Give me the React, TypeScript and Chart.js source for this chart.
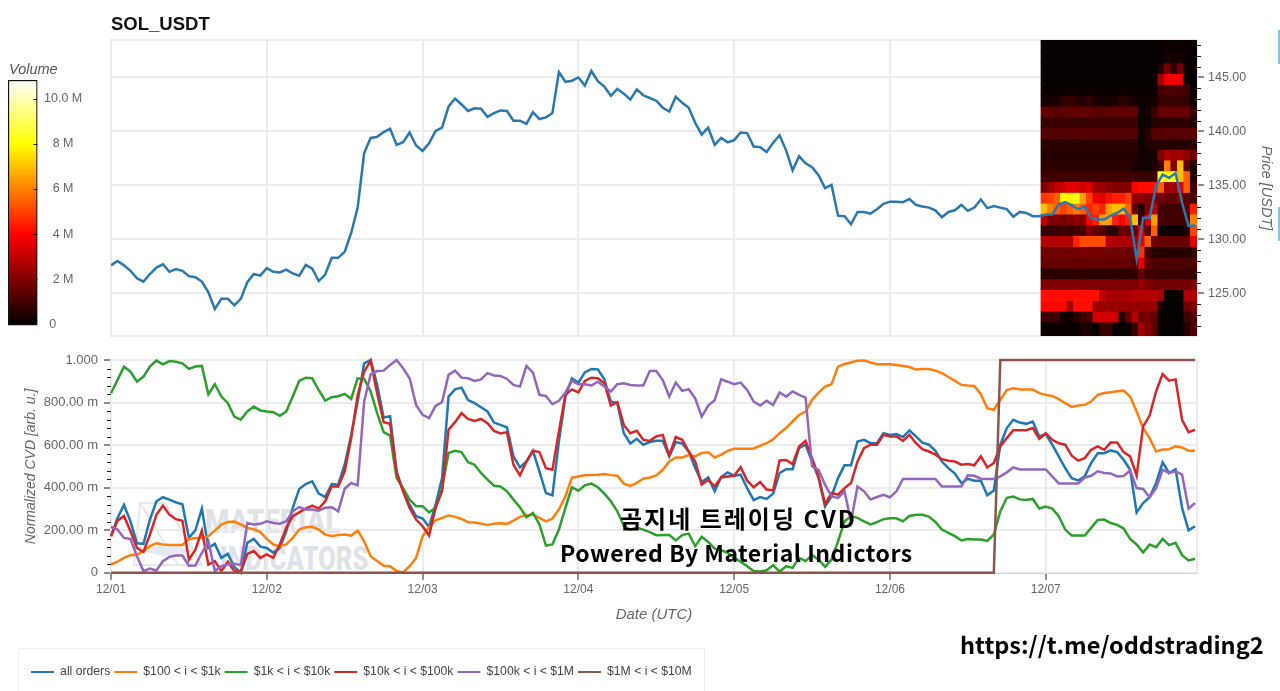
import React, { useEffect, useRef } from "react";
import { Chart, registerables } from "chart.js";

Chart.register(...registerables);

const dayLabels = ["12/01", "12/02", "12/03", "12/04", "12/05", "12/06", "12/07"];
const volumeTicks = [0, 2, 4, 6, 8, 10];
const priceTitle = "SOL_USDT";
const cvdLabels = [
  "all orders",
  "$100 < i < $1k",
  "$1k < i < $10k",
  "$10k < i < $100k",
  "$100k < i < $1M",
  "$1M < i < $10M",
];
const cvdColors = ["#1f77b4", "#ff7f0e", "#2ca02c", "#d62728", "#9467bd", "#8c564b"];

// hourly close, USDT
const price = [
  127.6, 128.0, 127.6, 127.1, 126.4, 126.1, 126.8, 127.4, 127.7, 127.0, 127.25, 127.1, 126.6, 126.5, 126.1, 125.1, 123.55, 124.5, 124.5, 123.9, 124.5, 126.05, 126.8, 126.65,
  127.35, 127.0, 126.95, 127.2, 126.85, 126.65, 127.65, 127.3, 126.15, 126.75, 128.3, 128.3, 128.85, 130.6, 132.95, 138.0, 139.4, 139.5, 139.95, 140.25, 138.75, 139.0, 139.9, 138.7,
  138.2, 138.9, 140.05, 140.35, 142.3, 143.05, 142.5, 141.9, 142.15, 142.1, 141.35, 141.7, 141.95, 141.9, 141.0, 141.0, 140.7, 141.8, 141.15, 141.3, 141.7, 145.5, 144.6, 144.7,
  145.0, 144.25, 145.6, 144.65, 144.15, 143.3, 143.95, 143.5, 142.95, 143.9, 143.35, 143.1, 142.85, 142.2, 141.85, 143.2, 142.65, 142.2, 140.8, 139.7, 140.35, 138.75, 139.4, 139.0,
  139.2, 139.9, 139.85, 138.6, 138.55, 138.1, 138.95, 139.65, 138.25, 136.4, 137.7, 137.05, 136.7, 135.95, 134.75, 135.05, 132.2, 132.15, 131.4, 132.55, 132.55, 132.4, 132.8, 133.3,
  133.5, 133.5, 133.45, 133.75, 133.2, 133.05, 132.95, 132.7, 132.05, 132.55, 132.7, 133.2, 132.65, 132.95, 133.7, 132.9, 133.1, 132.95, 132.8, 132.1, 132.55, 132.45, 132.15, 132.15,
  132.3, 132.3, 133.25, 133.45, 133.15, 132.8, 133.05, 132.0, 131.85, 131.85, 132.2, 132.45, 132.85, 132.0, 128.2, 132.0, 132.0, 134.95, 136.0, 135.7, 136.15, 133.4, 131.25, 131.3,
];

// normalized CVD, in milli units
const allOrders = [
  172, 258, 319, 242, 139, 136, 250, 336, 355, 344, 331, 322, 164, 200, 302, 117, 136, 70, 89, 27, 0, 141, 159, 123,
  117, 94, 117, 195, 305, 394, 417, 430, 372, 356, 417, 414, 508, 648, 805, 984, 1000, 883, 730, 736, 477, 383, 320, 266,
  255, 216, 320, 445, 828, 862, 870, 812, 797, 778, 758, 706, 695, 683, 547, 495, 523, 573, 477, 375, 364, 617, 828, 914,
  894, 942, 958, 956, 909, 805, 797, 656, 608, 630, 602, 614, 620, 620, 547, 614, 608, 570, 492, 427, 448, 383, 450, 472,
  456, 461, 398, 342, 356, 347, 372, 469, 487, 487, 586, 602, 523, 445, 311, 359, 445, 505, 505, 617, 625, 609, 609, 656,
  648, 652, 638, 669, 641, 612, 602, 573, 523, 492, 466, 422, 442, 433, 433, 364, 387, 602, 680, 719, 706, 700, 711, 641,
  652, 602, 547, 492, 445, 434, 453, 516, 562, 562, 575, 567, 531, 484, 284, 328, 355, 422, 519, 469, 487, 305, 200, 219,
];
const orders100to1k = [
  39, 52, 70, 83, 86, 102, 125, 139, 133, 131, 131, 131, 158, 163, 163, 172, 198, 227, 239, 241, 227, 211, 205, 191,
  159, 133, 125, 133, 164, 203, 214, 216, 203, 180, 173, 178, 180, 175, 198, 148, 78, 55, 33, 31, 8, 2, 31, 70,
  172, 214, 247, 258, 269, 264, 253, 238, 236, 231, 225, 231, 233, 230, 245, 263, 270, 273, 258, 242, 255, 297, 359, 447,
  453, 458, 459, 461, 464, 459, 456, 419, 408, 423, 442, 448, 458, 484, 523, 542, 542, 553, 547, 563, 566, 542, 555, 573,
  583, 583, 583, 584, 597, 609, 627, 656, 680, 711, 742, 758, 813, 847, 875, 886, 969, 981, 988, 997, 998, 988, 980, 980,
  980, 977, 972, 967, 955, 958, 958, 950, 938, 920, 902, 883, 880, 878, 839, 773, 766, 813, 859, 867, 861, 861, 861, 844,
  836, 831, 816, 797, 780, 786, 789, 805, 836, 845, 848, 853, 856, 828, 758, 680, 633, 570, 580, 581, 594, 589, 573, 573,
];
const orders1kto10k = [
  844, 906, 969, 945, 898, 922, 969, 997, 980, 995, 992, 984, 958, 969, 972, 839, 886, 828, 797, 734, 719, 758, 781, 763,
  758, 755, 738, 758, 828, 902, 917, 914, 859, 809, 825, 830, 841, 817, 914, 911, 852, 750, 661, 645, 445, 398, 344, 313,
  313, 284, 305, 398, 563, 573, 567, 520, 508, 469, 438, 409, 406, 383, 344, 308, 261, 281, 227, 128, 133, 203, 305, 402,
  386, 411, 419, 402, 372, 336, 289, 219, 203, 211, 203, 191, 177, 178, 178, 152, 177, 184, 125, 169, 145, 114, 106, 94,
  70, 52, 31, 8, 6, 12, 36, 5, 31, 23, 70, 55, 83, 62, 28, 62, 148, 242, 266, 258, 242, 227, 238, 252,
  256, 256, 242, 267, 273, 273, 264, 239, 203, 188, 172, 152, 159, 156, 156, 150, 180, 289, 352, 358, 345, 342, 347, 302,
  311, 302, 266, 203, 175, 175, 175, 211, 248, 250, 234, 225, 208, 159, 133, 95, 133, 120, 159, 130, 141, 83, 58, 66,
];
const orders10kto100k = [
  172, 245, 267, 195, 117, 98, 180, 273, 316, 273, 252, 245, 62, 109, 198, 39, 55, 8, 52, 8, 5, 89, 102, 70,
  86, 70, 133, 211, 266, 284, 302, 316, 302, 336, 406, 406, 477, 633, 836, 945, 997, 844, 708, 700, 469, 383, 305, 250,
  219, 175, 305, 383, 672, 708, 750, 723, 714, 723, 703, 667, 655, 661, 508, 458, 523, 573, 567, 492, 484, 664, 836, 862,
  848, 902, 917, 914, 891, 786, 802, 695, 656, 667, 625, 620, 641, 648, 552, 638, 625, 570, 523, 414, 437, 406, 448, 453,
  456, 497, 433, 402, 427, 391, 387, 528, 530, 511, 594, 620, 539, 453, 323, 375, 367, 398, 422, 523, 586, 602, 602, 648,
  641, 641, 620, 648, 609, 581, 570, 555, 534, 527, 523, 508, 511, 505, 547, 495, 516, 594, 633, 670, 670, 670, 680, 630,
  656, 625, 609, 602, 550, 527, 539, 578, 594, 578, 612, 612, 567, 547, 456, 688, 739, 852, 934, 903, 909, 719, 661, 672,
];
const orders100kto1m = [
  216, 203, 164, 159, 78, 8, 20, 11, 55, 75, 81, 81, 33, 34, 94, 148, 8, 31, 39, 42, 36, 234, 227, 230,
  242, 234, 231, 242, 289, 309, 297, 297, 292, 306, 308, 289, 395, 422, 411, 805, 933, 948, 950, 977, 1000, 961, 914, 789,
  742, 727, 784, 802, 930, 950, 917, 914, 902, 909, 938, 927, 925, 911, 883, 875, 972, 941, 836, 831, 792, 808, 847, 902,
  886, 886, 880, 898, 875, 852, 886, 891, 883, 880, 880, 948, 948, 906, 828, 894, 855, 863, 820, 734, 786, 811, 909, 898,
  886, 894, 859, 805, 786, 808, 789, 847, 828, 852, 836, 823, 500, 484, 414, 359, 352, 383, 242, 406, 383, 344, 356, 366,
  355, 383, 441, 441, 441, 441, 441, 441, 406, 406, 406, 406, 458, 456, 442, 441, 441, 453, 472, 495, 486, 486, 486, 486,
  486, 453, 420, 420, 420, 420, 448, 456, 477, 469, 467, 453, 455, 481, 398, 394, 355, 398, 484, 469, 477, 461, 302, 328,
];
const orders1mto10m = [
  0, 0, 0, 0, 0, 0, 0, 0, 0, 0, 0, 0, 0, 0, 0, 0, 0, 0, 0, 0, 0, 0, 0, 0,
  0, 0, 0, 0, 0, 0, 0, 0, 0, 0, 0, 0, 0, 0, 0, 0, 0, 0, 0, 0, 0, 0, 0, 0,
  0, 0, 0, 0, 0, 0, 0, 0, 0, 0, 0, 0, 0, 0, 0, 0, 0, 0, 0, 0, 0, 0, 0, 0,
  0, 0, 0, 0, 0, 0, 0, 0, 0, 0, 0, 0, 0, 0, 0, 0, 0, 0, 0, 0, 0, 0, 0, 0,
  0, 0, 0, 0, 0, 0, 0, 0, 0, 0, 0, 0, 0, 0, 0, 0, 0, 0, 0, 0, 0, 0, 0, 0,
  0, 0, 0, 0, 0, 0, 0, 0, 0, 0, 0, 0, 0, 0, 0, 0, 0, 1000, 1000, 1000, 1000, 1000, 1000, 1000,
  1000, 1000, 1000, 1000, 1000, 1000, 1000, 1000, 1000, 1000, 1000, 1000, 1000, 1000, 1000, 1000, 1000, 1000, 1000, 1000, 1000, 1000, 1000, 1000,
];
const cvdSeries = [allOrders, orders100to1k, orders1kto10k, orders10kto100k, orders100kto1m, orders1mto10m];

// volume profile of the last 24 hours: lower price edge of each $1 bin, top bin first
const heatBins = [
  148.35, 147.35, 146.35, 145.35, 144.35, 143.35, 142.35, 141.35, 140.35, 139.35, 138.35, 137.35, 136.35, 135.35, 134.35,
  133.35, 132.35, 131.35, 130.35, 129.35, 128.35, 127.35, 126.35, 125.35, 124.35, 123.35, 122.35, 121.35, 120.35,
];
const heatHours = [
  143.8, 144.8, 145.8, 146.8, 147.8, 148.8, 149.8, 150.8, 151.8, 152.8, 153.8, 154.8, 155.8, 156.8, 157.8, 158.8, 159.8, 160.8, 161.8, 162.8, 163.8, 164.8, 165.8, 166.8,
];
// volume in millions, one row per bin
const heatVolume = [
  [0.1, 0.1, 0.1, 0.1, 0.1, 0.1, 0.1, 0.1, 0.1, 0.1, 0.1, 0.1, 0.1, 0.1, 0.1, 0.1, 0.1, 0.1, 0.1, 0.1, 0.1, 0.1, 0.1, 0.1],
  [0.1, 0.1, 0.1, 0.1, 0.1, 0.1, 0.1, 0.1, 0.1, 0.1, 0.1, 0.1, 0.1, 0.1, 0.1, 0.1, 0.1, 0.1, 0.15, 0.2, 0.2, 0.2, 0.15, 0.1],
  [0.1, 0.1, 0.1, 0.1, 0.1, 0.1, 0.1, 0.1, 0.1, 0.1, 0.1, 0.1, 0.1, 0.1, 0.1, 0.1, 0.1, 0.1, 0.15, 0.4, 0.3, 0.4, 0.1, 0.1],
  [0.1, 0.1, 0.1, 0.1, 0.1, 0.1, 0.1, 0.1, 0.1, 0.1, 0.1, 0.1, 0.1, 0.1, 0.1, 0.1, 0.1, 0.1, 0.5, 1.8, 0.8, 1.8, 0.2, 0.1],
  [0.1, 0.1, 0.1, 0.1, 0.1, 0.1, 0.1, 0.1, 0.1, 0.1, 0.1, 0.1, 0.1, 0.1, 0.1, 0.1, 0.1, 0.1, 2.5, 3.8, 3.8, 3.7, 0.2, 0.1],
  [0.15, 0.15, 0.15, 0.15, 0.15, 0.15, 0.15, 0.15, 0.15, 0.15, 0.15, 0.15, 0.15, 0.15, 0.15, 0.15, 0.15, 0.2, 1.0, 1.2, 1.2, 1.1, 1.0, 0.15],
  [0.35, 0.35, 0.4, 0.8, 0.8, 0.7, 0.4, 0.8, 0.4, 0.35, 0.35, 0.4, 0.7, 0.6, 0.3, 0.2, 0.2, 0.3, 0.9, 0.9, 0.9, 0.9, 0.8, 0.25],
  [1.5, 1.5, 1.4, 1.5, 1.5, 1.5, 1.6, 1.6, 1.4, 1.3, 1.5, 1.5, 1.5, 1.5, 1.5, 0.25, 0.3, 0.9, 1.6, 1.6, 1.6, 1.6, 1.6, 0.8],
  [0.9, 0.9, 0.9, 0.9, 0.9, 0.9, 0.9, 0.9, 0.9, 0.9, 0.9, 0.9, 0.9, 0.9, 0.9, 0.2, 0.2, 0.6, 0.7, 0.7, 0.7, 0.7, 0.7, 0.5],
  [1.3, 1.3, 1.3, 1.3, 1.3, 1.3, 1.4, 1.4, 1.3, 1.3, 1.3, 1.3, 1.3, 1.3, 1.3, 0.3, 0.6, 1.4, 1.4, 1.4, 1.4, 1.4, 1.4, 1.4],
  [0.7, 0.7, 0.7, 0.7, 0.7, 0.7, 0.7, 0.7, 0.7, 0.7, 0.7, 0.7, 0.7, 0.7, 0.7, 0.2, 0.5, 0.6, 0.6, 0.6, 0.6, 0.6, 0.6, 0.6],
  [0.6, 0.6, 0.6, 0.6, 0.6, 0.6, 0.6, 0.6, 0.6, 0.6, 0.6, 0.6, 0.6, 0.6, 0.6, 0.3, 0.3, 0.3, 2.0, 2.6, 2.4, 2.6, 2.2, 1.8],
  [0.7, 0.7, 0.7, 0.7, 0.7, 0.7, 0.7, 0.7, 0.7, 0.7, 0.7, 0.7, 0.7, 0.7, 0.4, 0.3, 0.3, 0.5, 1.0, 6.0, 2.0, 7.0, 1.5, 0.4],
  [1.0, 1.0, 1.0, 1.0, 1.0, 1.0, 1.0, 1.0, 1.0, 1.0, 1.0, 1.0, 1.0, 1.0, 1.0, 0.9, 0.9, 1.0, 8.5, 8.0, 8.5, 7.0, 5.5, 0.4],
  [2.0, 2.5, 3.0, 3.2, 3.5, 3.5, 3.2, 3.5, 2.5, 2.4, 2.2, 2.0, 2.0, 2.0, 4.0, 4.2, 4.2, 4.2, 5.5, 2.5, 2.6, 3.5, 5.5, 1.0],
  [4.8, 5.0, 5.5, 8.0, 7.8, 8.2, 6.5, 5.0, 3.8, 3.5, 4.2, 4.5, 4.5, 5.0, 2.2, 2.2, 2.0, 2.0, 1.8, 1.5, 1.5, 2.0, 1.5, 1.0],
  [7.0, 6.0, 5.5, 5.0, 5.5, 6.0, 5.5, 4.5, 5.0, 4.5, 6.5, 7.0, 7.0, 5.5, 1.6, 0.5, 2.0, 3.0, 1.0, 1.0, 1.0, 1.0, 1.5, 4.5],
  [3.0, 2.0, 2.0, 1.8, 2.0, 2.2, 2.0, 4.0, 4.5, 6.5, 6.5, 4.5, 4.0, 4.5, 7.0, 1.0, 3.5, 6.5, 1.2, 1.0, 1.0, 1.0, 1.0, 6.0],
  [0.8, 0.9, 0.9, 1.0, 0.9, 0.9, 1.2, 2.0, 1.5, 1.3, 0.7, 0.7, 1.8, 1.5, 1.5, 3.5, 1.3, 5.5, 0.2, 0.2, 0.2, 0.2, 0.4, 5.0],
  [2.8, 2.8, 2.8, 2.8, 2.8, 4.5, 5.2, 5.2, 5.2, 5.2, 2.8, 2.7, 2.7, 2.7, 2.8, 3.8, 5.5, 1.8, 1.6, 1.6, 1.6, 1.6, 1.6, 3.5],
  [1.7, 1.8, 1.8, 1.8, 1.8, 1.7, 1.8, 1.8, 1.8, 1.8, 1.8, 1.7, 1.8, 1.7, 1.8, 4.8, 1.0, 0.6, 0.6, 0.6, 0.6, 0.6, 0.6, 0.7],
  [1.6, 1.6, 1.6, 1.6, 1.6, 1.6, 1.6, 1.6, 1.6, 1.6, 1.6, 1.6, 1.6, 1.6, 1.4, 3.5, 1.5, 1.2, 1.2, 1.2, 1.2, 1.2, 1.2, 1.2],
  [0.7, 0.7, 0.7, 0.7, 0.7, 0.7, 0.7, 0.7, 0.7, 0.7, 0.7, 0.7, 0.7, 0.7, 0.8, 1.5, 1.0, 1.0, 0.9, 0.9, 0.9, 0.9, 0.9, 0.9],
  [2.0, 2.0, 2.0, 2.0, 2.0, 2.0, 2.0, 2.0, 2.0, 2.0, 2.0, 2.0, 2.0, 2.0, 2.0, 2.3, 2.0, 1.8, 1.8, 1.8, 1.8, 1.8, 1.8, 2.0],
  [4.2, 4.2, 4.2, 4.2, 4.2, 4.2, 4.2, 4.2, 4.2, 3.0, 2.6, 2.6, 2.6, 2.6, 2.8, 2.8, 2.8, 2.8, 2.6, 0.15, 0.15, 0.15, 2.8, 2.8],
  [4.1, 4.1, 4.1, 4.1, 2.6, 4.2, 4.2, 4.2, 2.4, 2.4, 2.4, 2.4, 2.4, 2.4, 2.4, 2.4, 2.4, 2.4, 0.4, 0.1, 0.1, 0.1, 1.8, 2.0],
  [1.0, 1.0, 1.0, 0.2, 0.2, 0.6, 1.0, 1.2, 3.3, 3.3, 3.3, 3.3, 0.5, 1.6, 3.0, 1.8, 1.8, 1.5, 0.1, 0.1, 0.1, 0.1, 1.0, 1.2],
  [0.15, 0.15, 0.15, 0.15, 0.15, 0.15, 0.5, 0.4, 0.1, 0.9, 0.9, 0.2, 0.1, 0.2, 0.9, 2.5, 2.0, 1.5, 0.1, 0.1, 0.1, 0.1, 0.6, 1.2],
  [0.15, 0.15, 0.15, 0.15, 0.15, 0.15, 0.5, 0.4, 0.1, 0.9, 0.9, 0.2, 0.1, 0.2, 0.9, 2.5, 2.0, 1.5, 0.1, 0.1, 0.1, 0.1, 0.6, 1.2],
];

const hours = price.map((_, i) => i);
const X_MAX = 167.3;
const VOLUME_MAX = 10.84;
const AXIS_BLACK = "#1c1c1c";
const GRID = "#ececec";
const LABEL = "#666666";

Chart.defaults.font.family = "'Liberation Sans', Arial, sans-serif";
Chart.defaults.animation = false;

// same colours as the colour bar: black -> red at 4M -> yellow at 8M -> white
const hotColor = (v: number) => {
  const c = (n: number) => Math.round(255 * Math.max(0, Math.min(1, n)));
  return `rgb(${c(v / 4)},${c((v - 4) / 4)},${c((v - 8) / (VOLUME_MAX - 8))})`;
};

// thin border round the plot, and the short ticks chart.js has no option for
const framePlugin = {
  id: "frame",
  beforeDatasetsDraw(chart: any, _args: any, opts: any) {
    if (!opts.color) return;
    const { ctx, chartArea: a } = chart;
    ctx.save();
    ctx.strokeStyle = opts.color;
    ctx.lineWidth = 2;
    ctx.strokeRect(a.left, a.top, a.right - a.left, a.bottom - a.top);
    ctx.restore();
  },
};
const shortTicksPlugin = {
  id: "shortTicks",
  afterDraw(chart: any, _args: any, opts: any) {
    const { ctx, chartArea: a, scales } = chart;
    ctx.save();
    ctx.strokeStyle = AXIS_BLACK;
    ctx.lineWidth = 1;
    (opts.values || []).forEach((v: number) => {
      const y = Math.round(scales.y.getPixelForValue(v)) + 0.5;
      const x = opts.side === "right" ? a.right : a.left;
      ctx.beginPath();
      ctx.moveTo(x, y);
      ctx.lineTo(x + opts.length, y);
      ctx.stroke();
    });
    ctx.restore();
  },
};
// the legend sits further right than the axis title, so move it after layout
const legendShiftPlugin = {
  id: "legendShift",
  afterLayout(chart: any, _args: any, opts: any) {
    if (chart.legend) chart.legend.left = opts.left;
  },
};

const priceMinor = [122, 123, 124, 126, 127, 128, 129, 131, 132, 133, 134, 136, 137, 138, 139, 141, 142, 143, 144, 146, 147, 148];
const cvdMinor = [40, 80, 120, 160, 240, 280, 320, 360, 440, 480, 520, 560, 640, 680, 720, 760, 840, 880, 920, 960];

const App: React.FC = () => {
  const priceRef = useRef<HTMLCanvasElement | null>(null);
  const cvdRef = useRef<HTMLCanvasElement | null>(null);
  const barRef = useRef<HTMLCanvasElement | null>(null);

  useEffect(() => {
    if (!priceRef.current || !cvdRef.current || !barRef.current) return;

    const heatSets = heatBins.map((edge, r) => ({
      type: "bar" as const,
      data: heatHours.map((h) => ({ x: h, y: [edge, edge + 1] })),
      backgroundColor: heatVolume[r].map(hotColor),
      barThickness: 7,
      grouped: false,
      borderWidth: 0,
      order: 1,
    }));

    const priceChart = new Chart(priceRef.current, {
      type: "line",
      data: {
        datasets: [
          {
            label: "Price",
            data: price.map((p, i) => ({ x: hours[i], y: p })),
            borderColor: "#2a78ad",
            borderWidth: 2.5,
            pointRadius: 0,
            tension: 0,
            order: 0,
          },
          ...heatSets,
        ] as any,
      },
      options: {
        responsive: false,
        animation: false,
        events: [],
        layout: { autoPadding: false, padding: { left: 111, top: 40, bottom: 9 } },
        plugins: {
          legend: { display: false },
          tooltip: { enabled: false },
          frame: { color: GRID },
          shortTicks: { values: priceMinor, length: 4, side: "right" },
        } as any,
        scales: {
          x: {
            type: "linear",
            min: 0,
            max: X_MAX,
            offset: false,
            afterFit: (s: any) => { s.height = 0; },
            ticks: { display: false, stepSize: 24, includeBounds: false },
            grid: { color: GRID, lineWidth: 2, drawTicks: false, offset: false },
            border: { display: false },
          },
          y: {
            position: "right",
            min: 121.06,
            max: 148.47,
            afterFit: (s: any) => {
              s.width = 83;
              s.paddingTop = 0;
              s.paddingBottom = 0;
            },
            ticks: {
              stepSize: 5,
              includeBounds: false,
              color: LABEL,
              font: { size: 12.5 },
              padding: 4,
              callback: (v: any) => Number(v).toFixed(2),
            },
            grid: { color: GRID, lineWidth: 2, tickColor: AXIS_BLACK, tickLength: 7, tickWidth: 1 },
            border: { color: AXIS_BLACK, width: 1 },
            title: {
              display: true,
              text: "Price [USDT]",
              color: LABEL,
              font: { size: 14.5, style: "italic" },
              padding: { top: 5, bottom: 0 },
            },
          },
        },
      },
      plugins: [framePlugin, shortTicksPlugin],
    } as any);

    const cvdChart = new Chart(cvdRef.current, {
      type: "line",
      data: {
        labels: hours,
        datasets: cvdSeries.map((values, i) => ({
          label: cvdLabels[i],
          data: values,
          borderColor: cvdColors[i],
          backgroundColor: cvdColors[i],
          borderWidth: 2.5,
          pointRadius: 0,
          tension: 0,
          clip: 3,
          order: cvdSeries.length - i,
        })),
      },
      options: {
        responsive: false,
        animation: false,
        events: [],
        layout: { autoPadding: false, padding: { top: 15, bottom: 3, right: 83 } },
        plugins: {
          tooltip: { enabled: false },
          frame: { color: GRID },
          shortTicks: { values: cvdMinor, length: -4, side: "left" },
          legendShift: { left: 27 },
          legend: {
            position: "bottom",
            align: "start",
            labels: {
              boxWidth: 23,
              boxHeight: 2,
              padding: 4,
              color: "#444444",
              font: { size: 12.2 },
              generateLabels: (chart: any) =>
                Chart.defaults.plugins.legend.labels
                  .generateLabels(chart)
                  .map((l: any) => ({ ...l, lineWidth: 0 }))
                  .sort((a: any, b: any) => a.datasetIndex - b.datasetIndex),
            },
          },
        } as any,
        scales: {
          x: {
            type: "linear",
            min: 0,
            max: X_MAX,
            offset: false,
            afterFit: (s: any) => { s.height = 89; },
            ticks: {
              stepSize: 24,
              includeBounds: false,
              autoSkip: false,
              maxRotation: 0,
              color: LABEL,
              font: { size: 12 },
              padding: 3,
              callback: (v: any) => dayLabels[Number(v) / 24],
            },
            grid: { color: GRID, lineWidth: 2, tickColor: AXIS_BLACK, tickLength: 7, tickWidth: 1 },
            border: { color: AXIS_BLACK, width: 1.5 },
            title: {
              display: true,
              text: "Date (UTC)",
              color: LABEL,
              font: { size: 15, style: "italic" },
              padding: { top: 0, bottom: 38 },
            },
          },
          y: {
            min: 0,
            max: 1000,
            afterFit: (s: any) => { s.width = 111; },
            ticks: {
              stepSize: 200,
              color: LABEL,
              font: { size: 13 },
              padding: 6,
              callback: (v: any) => (v === 0 ? "0" : v === 1000 ? "1.000" : `${v}.00 m`),
            },
            grid: { color: GRID, lineWidth: 2, tickColor: AXIS_BLACK, tickLength: 7, tickWidth: 1 },
            border: { color: AXIS_BLACK, width: 1.5 },
            title: {
              display: true,
              text: "Normalized CVD [arb. u.]",
              color: LABEL,
              font: { size: 14, style: "italic" },
              padding: { top: 23, bottom: 0 },
            },
          },
        },
      },
      plugins: [framePlugin, shortTicksPlugin, legendShiftPlugin],
    } as any);

    const barChart = new Chart(barRef.current, {
      type: "bar",
      data: {
        labels: ["Volume"],
        datasets: [
          {
            data: [[-0.06, VOLUME_MAX]],
            backgroundColor: (c: any) => {
              const { chartArea, ctx } = c.chart;
              if (!chartArea) return "#000";
              const g = ctx.createLinearGradient(0, chartArea.bottom, 0, chartArea.top);
              g.addColorStop(0, "#000000");
              g.addColorStop(4 / VOLUME_MAX, "#ff0000");
              g.addColorStop(8 / VOLUME_MAX, "#ffff00");
              g.addColorStop(1, "#ffffff");
              return g;
            },
            borderColor: "#111111",
            borderWidth: 1.5,
            borderSkipped: false,
            barPercentage: 1,
            categoryPercentage: 1,
          },
        ] as any,
      },
      options: {
        responsive: false,
        animation: false,
        events: [],
        layout: { autoPadding: false, padding: { left: 8, top: 10, bottom: 9.5 } },
        plugins: {
          legend: { display: false },
          tooltip: { enabled: false },
          shortTicks: { values: volumeTicks.slice(1), length: -4, side: "right" },
        } as any,
        scales: {
          x: { display: false },
          y: {
            position: "right",
            min: -0.06,
            max: VOLUME_MAX,
            afterFit: (s: any) => {
              s.width = 62.5;
              s.paddingTop = 0;
              s.paddingBottom = 0;
            },
            ticks: {
              stepSize: 2,
              includeBounds: false,
              crossAlign: "center",
              color: LABEL,
              font: { size: 12.5 },
              padding: 6.5,
              callback: (v: any) => (v === 0 ? "0      " : v === 10 ? "10.0 M" : `${v} M`),
            },
            grid: { display: false, drawTicks: false },
            border: { display: false },
          },
        },
      },
      plugins: [shortTicksPlugin],
    } as any);

    return () => {
      priceChart.destroy();
      cvdChart.destroy();
      barChart.destroy();
    };
  }, []);

  const abs = (left: number, top: number): React.CSSProperties => ({
    position: "absolute",
    left,
    top,
    whiteSpace: "nowrap",
    lineHeight: 1,
  });
  const overlay: React.CSSProperties = {
    fontFamily: "'Noto Sans CJK KR', sans-serif",
    fontWeight: 700,
    color: "#000",
  };
  const watermark: React.CSSProperties = {
    fontFamily: "Roboto, sans-serif",
    fontWeight: 900,
    color: "#dfe3e7",
    transformOrigin: "left top",
  };

  return (
    <div style={{ position: "absolute", left: 0, top: 0, width: 1280, height: 691, overflow: "hidden", background: "#fff" }}>
      <svg style={{ position: "absolute", left: 130, top: 495 }} width={80} height={80}>
        <path d="M10 8 L35 8 L72 70 L4 70 Z M10 8 L48 70" fill="none" stroke="#e6e8ea" strokeWidth={2} />
        <path d="M14 56 Q36 44 62 56 Q40 66 14 56 Z" fill="#e6ebef" />
      </svg>
      <div style={{ ...abs(205, 505), ...watermark, fontSize: 33, transform: "scaleX(0.84)" }}>MATERIAL</div>
      <div style={{ ...abs(220, 541), ...watermark, fontSize: 34, transform: "scaleX(0.75)" }}>INDICATORS</div>

      <div style={{ position: "absolute", left: 18, top: 648, width: 685, height: 60, border: "1px solid #eeeeee" }} />

      <canvas ref={priceRef} width={1280} height={345} style={{ position: "absolute", left: 0, top: 0 }} />
      <canvas ref={cvdRef} width={1280} height={346} style={{ position: "absolute", left: 0, top: 345 }} />
      <canvas ref={barRef} width={100} height={265} style={{ position: "absolute", left: 0, top: 70 }} />

      <div style={{ ...abs(111, 15), fontFamily: "'Liberation Sans', sans-serif", fontWeight: 700, fontSize: 18.5, color: "#111" }}>
        {priceTitle}
      </div>
      <div style={{ ...abs(9, 62), fontFamily: "'Liberation Sans', sans-serif", fontStyle: "italic", fontSize: 14.5, color: "#555" }}>
        Volume
      </div>
      <div style={{ ...abs(620, 506), ...overlay, fontSize: 24, letterSpacing: 2 }}>곰지네 트레이딩 CVD</div>
      <div style={{ ...abs(560, 541), ...overlay, fontSize: 23, letterSpacing: 0.5 }}>Powered By Material Indictors</div>
      <div style={{ ...abs(960, 633), ...overlay, fontSize: 23.5 }}>https://t.me/oddstrading2</div>

      <div style={{ position: "absolute", left: 1278, top: 30, width: 2, height: 34, background: "#8cc4dc" }} />
      <div style={{ position: "absolute", left: 1278, top: 207, width: 2, height: 34, background: "#8cc4dc" }} />
    </div>
  );
};

export default App;
